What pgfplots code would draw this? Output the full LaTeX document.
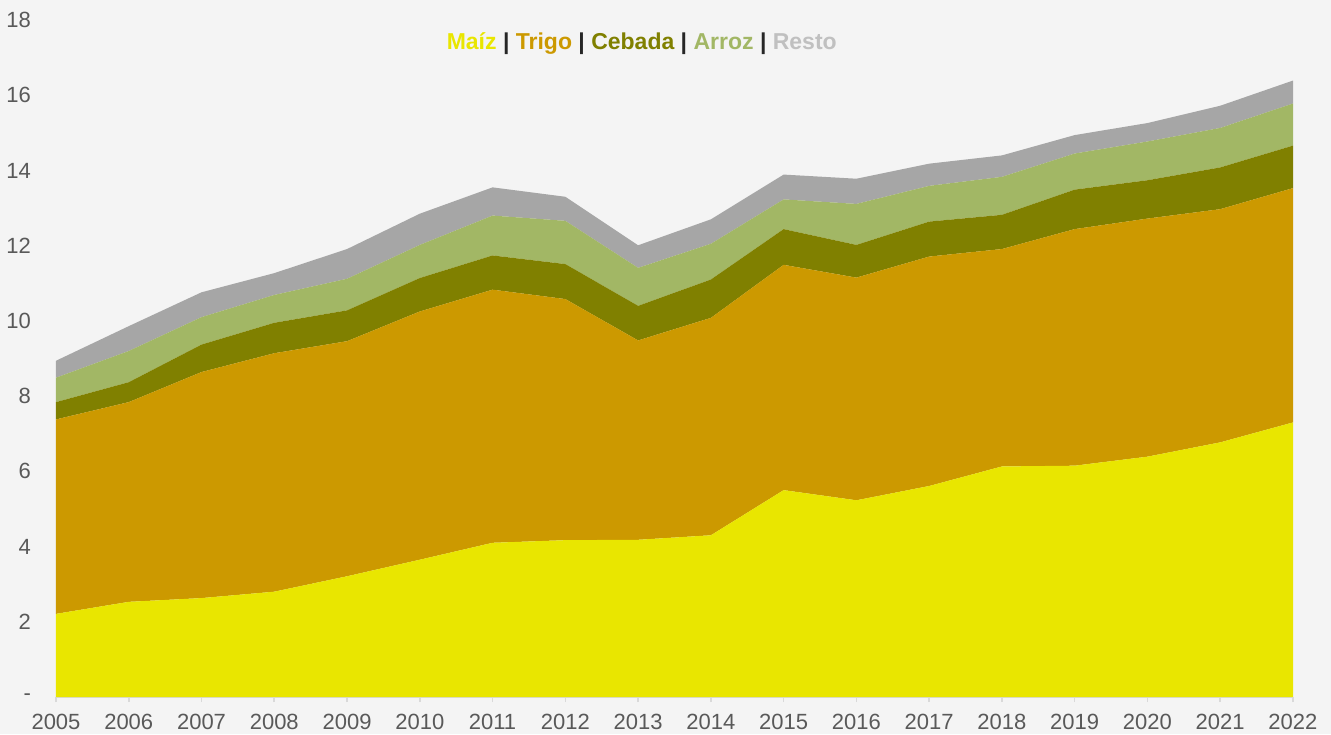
\documentclass[border=0pt]{standalone}
\usepackage{pgfplots}
\pgfplotsset{compat=1.18}
\usepackage{pgfplotstable}
\usepackage{fontspec}
\setmainfont{Liberation Sans}
\usetikzlibrary{backgrounds}

\definecolor{maiz}{RGB}{233,230,0}
\definecolor{trigo}{RGB}{204,153,0}
\definecolor{cebada}{RGB}{128,128,0}
\definecolor{arroz}{RGB}{162,183,101}
\definecolor{resto}{RGB}{166,166,166}
\definecolor{restotxt}{RGB}{192,192,192}
\definecolor{bg}{RGB}{244,244,244}
\definecolor{ticktxt}{RGB}{89,89,89}
\definecolor{axgray}{RGB}{217,217,217}
\definecolor{sep}{RGB}{38,38,38}

% millones de toneladas por cultivo (lectura del grafico)
\pgfplotstableread{
year maiz trigo cebada arroz resto
2005 2.21 5.17 0.46 0.65 0.45
2006 2.53 5.31 0.53 0.83 0.66
2007 2.63 6.01 0.73 0.73 0.66
2008 2.80 6.34 0.81 0.74 0.58
2009 3.21 6.25 0.82 0.84 0.79
2010 3.65 6.60 0.89 0.88 0.83
2011 4.10 6.73 0.91 1.06 0.75
2012 4.17 6.41 0.93 1.15 0.64
2013 4.18 5.30 0.92 1.01 0.60
2014 4.30 5.78 1.02 0.95 0.65
2015 5.50 5.99 0.95 0.79 0.66
2016 5.23 5.92 0.87 1.09 0.67
2017 5.61 6.10 0.93 0.95 0.59
2018 6.13 5.78 0.91 1.01 0.57
2019 6.15 6.29 1.05 0.96 0.49
2020 6.39 6.33 1.02 1.03 0.49
2021 6.77 6.20 1.11 1.05 0.59
2022 7.30 6.23 1.13 1.12 0.61
}\datatable

\begin{document}
\begin{tikzpicture}
\begin{axis}[
    scale only axis,
    width=618.5pt,
    height=338.5pt,
    xmin=2005, xmax=2022,
    ymin=0, ymax=18,
    stack plots=y,
    xtick={2005,...,2022},
    ytick={0,2,...,18},
    yticklabels={-,2,4,6,8,10,12,14,16,18},
    axis line style={draw=none},
    tick align=outside,
    xtick pos=left,
    ytick pos=left,
    xtick style={draw=axgray, line width=0.8pt},
    ytick style={draw=none},
    major tick length=2.5pt,
    tick label style={font=\fontsize{11}{13}\selectfont, text=ticktxt},
    /pgf/number format/assume math mode=true,
    x tick label style={/pgf/number format/1000 sep={}, yshift=-2.5pt},
    yticklabel style={xshift=-6.5pt},
    clip=false,
]
\addplot[fill=maiz, draw=none] table[x=year, y=maiz] {\datatable} \closedcycle;
\addplot[fill=trigo, draw=none] table[x=year, y=trigo] {\datatable} \closedcycle;
\addplot[fill=cebada, draw=none] table[x=year, y=cebada] {\datatable} \closedcycle;
\addplot[fill=arroz, draw=none] table[x=year, y=arroz] {\datatable} \closedcycle;
\addplot[fill=resto, draw=none] table[x=year, y=resto] {\datatable} \closedcycle;
\draw[axgray, line width=0.8pt] (rel axis cs:0,0) -- (rel axis cs:1,0);
\node[font=\bfseries\fontsize{11.5}{13}\selectfont] at (axis cs:2013.05,17.37)
  {\textcolor{maiz}{Maíz} \textcolor{sep}{|} \textcolor{trigo}{Trigo} \textcolor{sep}{|} \textcolor{cebada}{Cebada} \textcolor{sep}{|} \textcolor{arroz}{Arroz} \textcolor{sep}{|} \textcolor{restotxt}{Resto}};
\end{axis}
\begin{pgfonlayer}{background}
\fill[bg] (-28pt,-18.5pt) rectangle (637.5pt,348.5pt);
\end{pgfonlayer}
\pgfresetboundingbox
\useasboundingbox (-28pt,-18.5pt) rectangle (637.5pt,348.5pt);
\end{tikzpicture}
\end{document}
